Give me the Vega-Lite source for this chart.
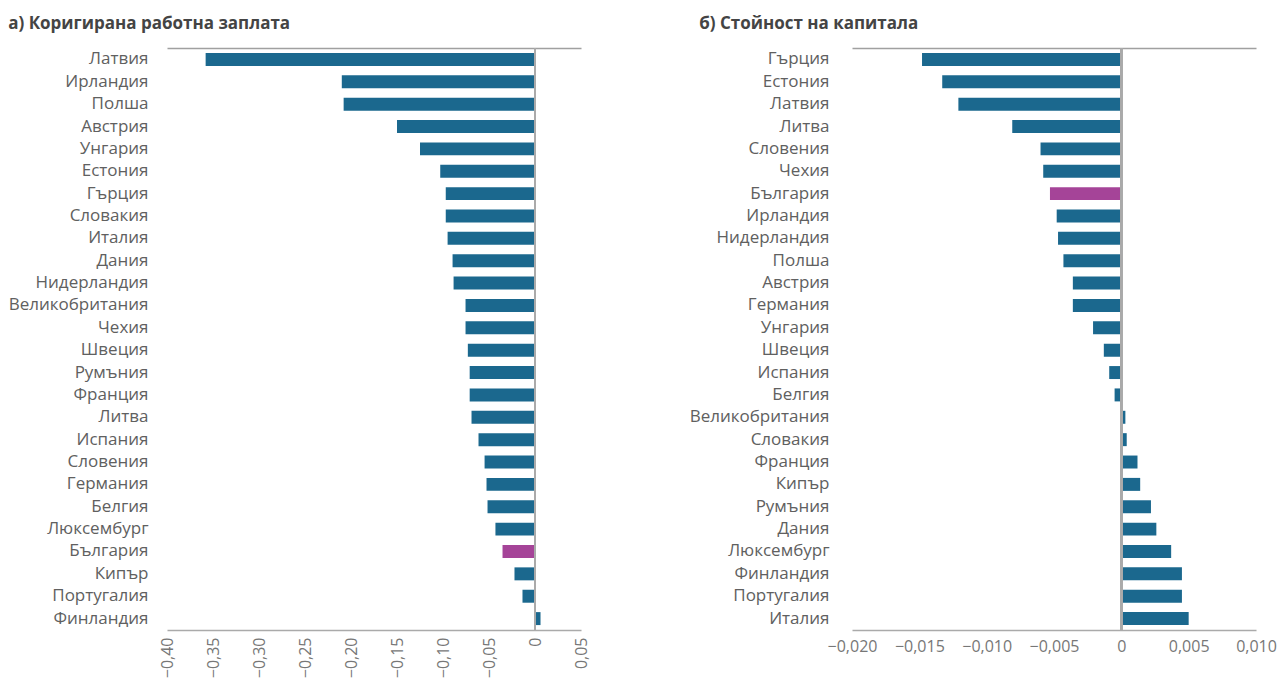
{
  "$schema": "https://vega.github.io/schema/vega-lite/v6.json",
  "background": "white",
  "padding": {"left": 8, "top": 15, "right": 5, "bottom": 5},
  "config": {"view": {"stroke": null}, "font": "Open Sans", "concat": {"spacing": 100}},
  "datasets": {
    "wage": [
      {"c": "Латвия", "v": -0.358},
      {"c": "Ирландия", "v": -0.210},
      {"c": "Полша", "v": -0.208},
      {"c": "Австрия", "v": -0.150},
      {"c": "Унгария", "v": -0.125},
      {"c": "Естония", "v": -0.103},
      {"c": "Гърция", "v": -0.097},
      {"c": "Словакия", "v": -0.097},
      {"c": "Италия", "v": -0.095},
      {"c": "Дания", "v": -0.0896},
      {"c": "Нидерландия", "v": -0.0885},
      {"c": "Великобритания", "v": -0.0755},
      {"c": "Чехия", "v": -0.0755},
      {"c": "Швеция", "v": -0.073},
      {"c": "Румъния", "v": -0.071},
      {"c": "Франция", "v": -0.071},
      {"c": "Литва", "v": -0.069},
      {"c": "Испания", "v": -0.0614},
      {"c": "Словения", "v": -0.0548},
      {"c": "Германия", "v": -0.0527},
      {"c": "Белгия", "v": -0.0516},
      {"c": "Люксембург", "v": -0.043},
      {"c": "България", "v": -0.0353},
      {"c": "Кипър", "v": -0.0223},
      {"c": "Португалия", "v": -0.0136},
      {"c": "Финландия", "v": 0.006}
    ],
    "capital": [
      {"c": "Гърция", "v": -0.0148},
      {"c": "Естония", "v": -0.0133},
      {"c": "Латвия", "v": -0.0121},
      {"c": "Литва", "v": -0.0081},
      {"c": "Словения", "v": -0.0060},
      {"c": "Чехия", "v": -0.0058},
      {"c": "България", "v": -0.0053},
      {"c": "Ирландия", "v": -0.0048},
      {"c": "Нидерландия", "v": -0.0047},
      {"c": "Полша", "v": -0.0043},
      {"c": "Австрия", "v": -0.0036},
      {"c": "Германия", "v": -0.0036},
      {"c": "Унгария", "v": -0.0021},
      {"c": "Швеция", "v": -0.0013},
      {"c": "Испания", "v": -0.0009},
      {"c": "Белгия", "v": -0.0005},
      {"c": "Великобритания", "v": 0.0003},
      {"c": "Словакия", "v": 0.0004},
      {"c": "Франция", "v": 0.0012},
      {"c": "Кипър", "v": 0.0014},
      {"c": "Румъния", "v": 0.0022},
      {"c": "Дания", "v": 0.0026},
      {"c": "Люксембург", "v": 0.0037},
      {"c": "Финландия", "v": 0.0045},
      {"c": "Португалия", "v": 0.0045},
      {"c": "Италия", "v": 0.0050}
    ]
  },
  "hconcat": [
    {
      "width": 414,
      "height": 582,
      "title": {"text": "а) Коригирана работна заплата", "anchor": "start", "frame": "bounds", "fontSize": 17, "fontWeight": "bold", "color": "#444444", "offset": 14},
      "data": {"name": "wage"},
      "layer": [
        {
          "mark": {"type": "bar"},
          "encoding": {
            "x": {"field": "v", "type": "quantitative",
              "scale": {"domain": [-0.4, 0.05], "nice": false, "zero": false},
              "axis": {"orient": "bottom", "title": null, "grid": false, "ticks": false, "labelOverlap": false, "labelFlush": false,
                "values": [-0.4, -0.35, -0.3, -0.25, -0.2, -0.15, -0.1, -0.05, 0, 0.05],
                "labelExpr": "datum.value == 0 ? '0' : replace(format(datum.value, '.2f'), '.', ',')",
                "labelAngle": -90, "labelFontSize": 16, "labelColor": "#777777", "labelPadding": 7,
                "domainColor": "#aaaaaa", "domainWidth": 1.5}},
            "y": {"field": "c", "type": "nominal", "sort": null,
              "scale": {"paddingInner": 0.42, "paddingOuter": 0.22},
              "axis": {"title": null, "domain": false, "ticks": false, "labelFontSize": 17, "labelColor": "#606060", "labelPadding": 19}},
            "color": {"condition": {"test": "datum.c == 'България'", "value": "#a54498"}, "value": "#1b688e"}
          }
        },
        {
          "mark": {"type": "rule", "color": "#aaaaaa", "strokeWidth": 2},
          "encoding": {
            "x": {"datum": 0, "type": "quantitative",
              "axis": {"orient": "top", "title": null, "labels": false, "ticks": false, "grid": false, "domainColor": "#a0a0a0", "domainWidth": 1.5}}
          }
        }
      ],
      "resolve": {"axis": {"x": "independent"}}
    },
    {
      "width": 404,
      "height": 582,
      "title": {"text": "б) Стойност на капитала", "anchor": "start", "frame": "bounds", "fontSize": 17, "fontWeight": "bold", "color": "#444444", "offset": 14, "dx": 10},
      "data": {"name": "capital"},
      "layer": [
        {
          "mark": {"type": "bar"},
          "encoding": {
            "x": {"field": "v", "type": "quantitative",
              "scale": {"domain": [-0.02, 0.01], "nice": false, "zero": false},
              "axis": {"orient": "bottom", "title": null, "grid": false, "ticks": false, "labelOverlap": false, "labelFlush": false,
                "values": [-0.02, -0.015, -0.01, -0.005, 0, 0.005, 0.01],
                "labelExpr": "datum.value == 0 ? '0' : replace(format(datum.value, '.3f'), '.', ',')",
                "labelFontSize": 16, "labelColor": "#777777", "labelPadding": 8,
                "domainColor": "#aaaaaa", "domainWidth": 1.5}},
            "y": {"field": "c", "type": "nominal", "sort": null,
              "scale": {"paddingInner": 0.42, "paddingOuter": 0.22},
              "axis": {"title": null, "domain": false, "ticks": false, "labelFontSize": 17, "labelColor": "#606060", "labelPadding": 23}},
            "color": {"condition": {"test": "datum.c == 'България'", "value": "#a54498"}, "value": "#1b688e"}
          }
        },
        {
          "mark": {"type": "rule", "color": "#aaaaaa", "strokeWidth": 2},
          "encoding": {
            "x": {"datum": 0, "type": "quantitative",
              "axis": {"orient": "top", "title": null, "labels": false, "ticks": false, "grid": false, "domainColor": "#a0a0a0", "domainWidth": 1.5}}
          }
        }
      ],
      "resolve": {"axis": {"x": "independent"}}
    }
  ]
}
